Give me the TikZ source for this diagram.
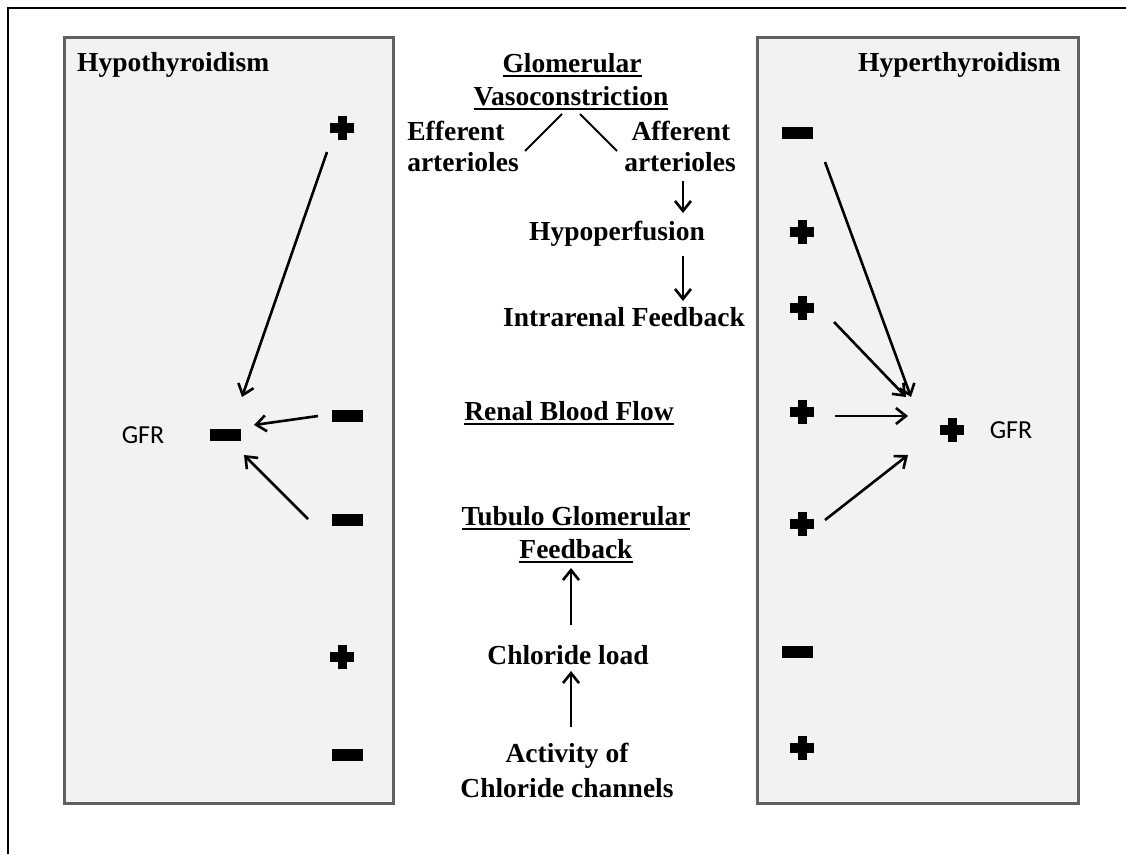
\documentclass[tikz,border=0pt]{standalone}
\usepackage{fontspec}
\setmainfont{Liberation Serif}
\newfontfamily\gfrfont{Carlito}
\usetikzlibrary{arrows.meta}
\newcommand\ulin[1]{\setbox0\hbox{#1}\rlap{\rule[-4.5pt]{\wd0}{2pt}}\box0}
\definecolor{boxfill}{HTML}{F2F2F2}
\definecolor{boxline}{HTML}{606060}
\tikzset{
  txt/.style={font=\fontsize{27.5}{32}\selectfont\bfseries, inner sep=0pt},
  gfrtxt/.style={font=\gfrfont\fontsize{26}{30}\selectfont, inner sep=0pt},
  panel/.style={draw=boxline, fill=boxfill, line width=3pt},
  minussign/.style={rectangle, fill=black, minimum width=31pt, minimum height=12pt, inner sep=0pt},
  plussign/.style={rectangle, minimum size=24pt, inner sep=0pt,
    path picture={
      \fill[black] ([yshift=-5pt]path picture bounding box.west) rectangle ([yshift=5pt]path picture bounding box.east);
      \fill[black] ([xshift=-4.5pt]path picture bounding box.south) rectangle ([xshift=4.5pt]path picture bounding box.north);
    }},
  arr/.style={line width=2.6pt, -{Straight Barb[length=10pt,width=16pt]}},
  link/.style={line width=2pt}
}
\begin{document}
\begin{tikzpicture}[x=1pt,y=-1pt]
\useasboundingbox (0,0) rectangle (1126,854);
% outer frame (top and left edges)
\draw[line width=2.5pt] (8,854) -- (8,8) -- (1126,8);
% panels
\draw[panel] (64,37) rectangle (393,803);
\draw[panel] (757,37) rectangle (1078,803);

% titles
\node[txt, anchor=base west] (hypo) at (77,71) {Hypothyroidism};
\node[txt, anchor=base east] (hyper) at (1061,71) {Hyperthyroidism};

% centre column
\node[txt, anchor=base] (glom1) at (572,72) {\ulin{Glomerular}};
\node[txt, anchor=base] (glom2) at (571,105) {\ulin{Vasoconstriction}};
\node[txt, anchor=base] (eff1) at (456,140) {Efferent};
\node[txt, anchor=base] (eff2) at (463,171) {arterioles};
\node[txt, anchor=base] (aff1) at (681,140) {Afferent};
\node[txt, anchor=base] (aff2) at (680,171) {arterioles};
\node[txt, anchor=base] (hypop) at (617,240) {Hypoperfusion};
\node[txt, anchor=base] (intra) at (624,326) {Intrarenal Feedback};
\node[txt, anchor=base] (rbf) at (569,420) {\ulin{Renal Blood Flow}};
\node[txt, anchor=base] (tgf1) at (576,525) {\ulin{Tubulo Glomerular}};
\node[txt, anchor=base] (tgf2) at (576,558) {\ulin{Feedback}};
\node[txt, anchor=base] (cll) at (568,664) {Chloride load};
\node[txt, anchor=base] (act1) at (567,762) {Activity of};
\node[txt, anchor=base] (act2) at (567,797) {Chloride channels};

% branch lines
\coordinate (vL) at (562,114);
\coordinate (vR) at (580,114);
\coordinate (effT) at (525,151);
\coordinate (affT) at (617,151);
\draw[link] (vL) -- (effT);
\draw[link] (vR) -- (affT);

% centre arrows
\coordinate (c1s) at (683,181); \coordinate (c1e) at (683,213);
\coordinate (c2s) at (683,256); \coordinate (c2e) at (683,301);
\coordinate (c3s) at (571,625); \coordinate (c3e) at (571,568);
\coordinate (c4s) at (571,727); \coordinate (c4e) at (571,671);
\draw[arr] (c1s) -- (c1e);
\draw[arr] (c2s) -- (c2e);
\draw[arr] (c3s) -- (c3e);
\draw[arr] (c4s) -- (c4e);

% left column signs
\node[plussign] (lp1) at (342,128) {};
\node[minussign] (lm2) at (347,416) {};
\node[minussign] (lm3) at (347,520) {};
\node[plussign] (lp4) at (342,657) {};
\node[minussign] (lm5) at (347,755) {};
\node[minussign] (lgfr) at (225,435) {};
\node[gfrtxt] (lgfrt) at (143,435) {GFR};

% right column signs
\node[minussign] (rm1) at (797,133) {};
\node[plussign] (rp2) at (802,232) {};
\node[plussign] (rp3) at (802,308) {};
\node[plussign] (rp4) at (802,412) {};
\node[plussign] (rp5) at (802,524) {};
\node[minussign] (rm6) at (797,652) {};
\node[plussign] (rp7) at (802,748) {};
\node[plussign] (rgfr) at (952,430) {};
\node[gfrtxt] (rgfrt) at (1011,430) {GFR};

% left arrows
\coordinate (l1s) at (327,152); \coordinate (l1e) at (242,397);
\coordinate (l2s) at (318,416); \coordinate (l2e) at (254,425);
\coordinate (l3s) at (308,519); \coordinate (l3e) at (244,455);
\draw[arr] (l1s) -- (l1e);
\draw[arr] (l2s) -- (l2e);
\draw[arr] (l3s) -- (l3e);

% right arrows
\coordinate (r1s) at (825,162); \coordinate (r1e) at (911,397);
\coordinate (r2s) at (834,322); \coordinate (r2e) at (906,397);
\coordinate (r3s) at (835,416); \coordinate (r3e) at (908,416);
\coordinate (r4s) at (825,520); \coordinate (r4e) at (908,455);
\draw[arr] (r1s) -- (r1e);
\draw[arr] (r2s) -- (r2e);
\draw[arr] (r3s) -- (r3e);
\draw[arr] (r4s) -- (r4e);
\end{tikzpicture}
\end{document}
